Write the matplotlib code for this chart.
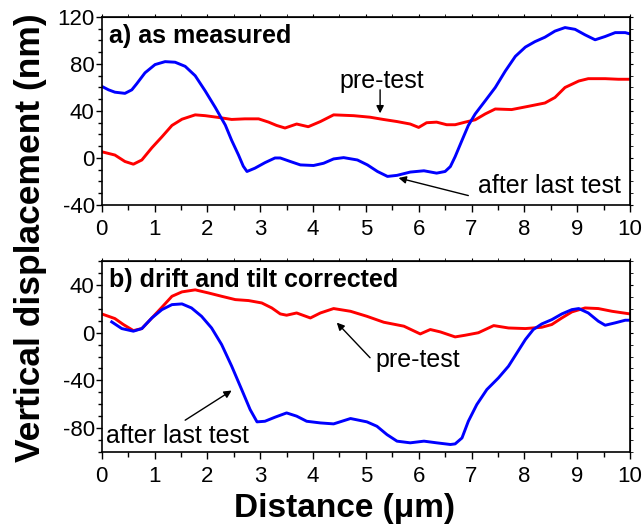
import matplotlib
matplotlib.use('Agg')
import matplotlib.pyplot as plt
from matplotlib.ticker import MultipleLocator

plt.rcParams['font.family'] = ['Liberation Sans', 'DejaVu Sans']
plt.rcParams['axes.unicode_minus'] = False

# (a) as measured - after last test (blue)
a_blue_x = [0, 0.13, 0.25, 0.44, 0.57, 0.66, 0.82, 1.01, 1.2, 1.39, 1.58, 1.77, 1.96,
            2.15, 2.34, 2.46, 2.59, 2.68, 2.75, 2.9, 3.09, 3.28, 3.38, 3.57, 3.76,
            4.01, 4.2, 4.39, 4.58, 4.84, 5.03, 5.22, 5.41, 5.59, 5.84, 6.1, 6.34,
            6.5, 6.6, 6.69, 6.82, 6.94, 7.07, 7.26, 7.45, 7.64, 7.83, 8.02, 8.2,
            8.39, 8.58, 8.77, 8.96, 9.15, 9.34, 9.53, 9.72, 9.91, 10]
a_blue_y = [61, 58, 56, 55, 58, 63, 72.5, 79.5, 82, 81.5, 78, 70, 57,
            43, 28, 15, 2.5, -7, -11.5, -8.7, -4, 0, 0, -3, -5.9,
            -6.4, -4.5, -0.8, 0.3, -1.7, -5.9, -11.5, -15.7, -14.8, -12, -10.9, -12.9,
            -11.5, -7.3, 1.1, 15, 27.7, 37.5, 48.7, 60, 74, 86.5, 94.4, 99,
            102.8, 108, 111, 109.5, 104.8, 100.6, 103.4, 106.7, 106.7, 105.6]

# (a) as measured - pre-test (red)
a_red_x = [0, 0.25, 0.44, 0.6, 0.76, 0.95, 1.14, 1.33, 1.52, 1.77, 1.96, 2.21, 2.46,
           2.71, 2.97, 3.16, 3.31, 3.47, 3.69, 3.91, 4.14, 4.39, 4.77, 5.08, 5.33,
           5.59, 5.84, 6.0, 6.15, 6.34, 6.53, 6.69, 6.88, 7.07, 7.26, 7.45, 7.76,
           8.08, 8.39, 8.58, 8.77, 9.03, 9.21, 9.53, 9.78, 10]
a_red_y = [5.3, 2.5, -3, -5.3, -1.7, 8.7, 18, 27.7, 33, 36.7, 36, 34.5, 32.8,
           33.3, 33.3, 30.5, 27.7, 25.5, 28.9, 26.6, 31, 36.7, 36, 34.7, 32.8,
           31, 28.9, 26, 30, 30.5, 28.3, 28.3, 30.5, 32.5, 37.5, 41.7, 41.2,
           44, 46.8, 51.5, 60, 65.5, 67.5, 67.5, 67, 67]

# (b) drift and tilt corrected - after last test (blue)
b_blue_x = [0.19, 0.38, 0.6, 0.76, 0.95, 1.14, 1.33, 1.52, 1.7, 1.89, 2.08, 2.27, 2.46,
            2.65, 2.81, 2.94, 3.09, 3.28, 3.5, 3.69, 3.88, 4.14, 4.39, 4.71, 5.02,
            5.21, 5.4, 5.59, 5.84, 6.1, 6.34, 6.6, 6.69, 6.82, 6.94, 7.1, 7.29,
            7.51, 7.7, 7.86, 8.02, 8.17, 8.33, 8.52, 8.71, 8.9, 9.03, 9.21, 9.4,
            9.53, 9.72, 9.91, 10]
b_blue_y = [9.1, 3.5, 1.3, 3.5, 12.4, 19.4, 23.6, 24.2, 20.8, 13.8, 4, -9.9, -28,
            -47.7, -64.5, -74.8, -74.3, -70.9, -67.3, -70, -74.3, -75.7, -76.5, -72, -74.8,
            -78.5, -85.5, -91, -92.4, -91, -92.4, -93.8, -93.3, -88.3, -74.3, -60.3, -47.7,
            -37.9, -28.1, -16.9, -5.7, 2.7, 7.4, 11, 15.8, 19.4, 20.3, 16.6, 9.7,
            6.3, 8.3, 10.5, 10.5]

# (b) drift and tilt corrected - pre-test (red)
b_red_x = [0, 0.25, 0.41, 0.6, 0.76, 0.95, 1.14, 1.33, 1.52, 1.77, 2.02, 2.27, 2.53,
           2.78, 3.03, 3.22, 3.38, 3.5, 3.69, 3.95, 4.14, 4.39, 4.71, 5.02, 5.34,
           5.72, 6.03, 6.22, 6.41, 6.69, 6.88, 7.13, 7.42, 7.7, 8.02, 8.33, 8.52,
           8.71, 8.9, 9.15, 9.4, 9.66, 10]
b_red_y = [15.8, 11.9, 6.9, 1.8, 3.5, 12.4, 21.4, 30.6, 34.3, 36, 33.4, 30.6, 27.8,
           27, 25, 20.8, 15.8, 14.7, 16.6, 12.4, 16.6, 20.3, 18, 13.8, 8.8,
           5.5, -1, 2.7, 0.7, -3.5, -2.1, 0, 6, 4, 3.5, 4.6, 6.9,
           12.4, 17.5, 20.8, 20.3, 18, 15.8]

fig = plt.figure(figsize=(6.42, 5.31), dpi=100)
ax1 = fig.add_axes([0.1584, 0.614, 0.8229, 0.354])
ax2 = fig.add_axes([0.1584, 0.149, 0.8229, 0.359])

lw = 2.1
ax1.plot(a_red_x, a_red_y, color='#ff0000', lw=lw, solid_joinstyle='round')
ax1.plot(a_blue_x, a_blue_y, color='#0000ff', lw=lw, solid_joinstyle='round')
ax2.plot(b_red_x, b_red_y, color='#ff0000', lw=lw, solid_joinstyle='round')
ax2.plot(b_blue_x, b_blue_y, color='#0000ff', lw=lw, solid_joinstyle='round')

ax1.set_ylim(-40, 120)
ax2.set_ylim(-100, 60)
for ax in (ax1, ax2):
    ax.set_xlim(0, 10)
    ax.xaxis.set_major_locator(MultipleLocator(1))
    ax.xaxis.set_minor_locator(MultipleLocator(0.5))
    ax.yaxis.set_major_locator(MultipleLocator(40))
    ax.yaxis.set_minor_locator(MultipleLocator(10))
    ax.tick_params(which='both', direction='out', labelsize=16, width=1,
                   top=False, right=False)
    ax.tick_params(axis='x', which='major', length=5, pad=5)
    ax.tick_params(axis='x', which='minor', length=3.5)
    ax.tick_params(axis='y', which='major', length=4, pad=1)
    ax.tick_params(axis='y', which='minor', length=3)
    # short ticks on top and right
    sec = ax.secondary_xaxis('top')
    sec.xaxis.set_major_locator(MultipleLocator(1))
    sec.xaxis.set_minor_locator(MultipleLocator(0.5))
    sec.tick_params(which='both', direction='out', labeltop=False, length=2.5)
    secy = ax.secondary_yaxis('right')
    secy.yaxis.set_major_locator(MultipleLocator(40))
    secy.yaxis.set_minor_locator(MultipleLocator(10))
    secy.tick_params(which='both', direction='out', labelright=False, length=2.5)
    for s in ax.spines.values():
        s.set_linewidth(1.2)

# panel titles
ax1.text(0.14, 104, 'a) as measured', fontsize=18, fontweight='bold', va='center')
ax2.text(0.14, 44, 'b) drift and tilt corrected', fontsize=18, fontweight='bold', va='center')

arrow = dict(arrowstyle='-|>', color='black', lw=1, mutation_scale=11, shrinkA=0, shrinkB=0)

# annotations panel a
ax1.text(5.3, 65.5, 'pre-test', fontsize=18, ha='center', va='center')
ax1.annotate('', xy=(5.27, 38), xytext=(5.27, 58), arrowprops=arrow)
ax1.text(8.47, -24, 'after last test', fontsize=18, ha='center', va='center')
ax1.annotate('', xy=(5.62, -17), xytext=(6.94, -32), arrowprops=arrow)

# annotations panel b
ax2.text(5.18, -22.5, 'pre-test', fontsize=18, ha='left', va='center')
ax2.annotate('', xy=(4.45, 8.5), xytext=(5.08, -21), arrowprops=arrow)
ax2.text(0.09, -87, 'after last test', fontsize=18, ha='left', va='center')
ax2.annotate('', xy=(2.46, -48.5), xytext=(1.58, -73.4), arrowprops=arrow)

fig.text(0.537, 0.0264, 'Distance (\u03bcm)', fontsize=24, fontweight='bold',
         ha='center', va='baseline')
fig.text(0.048, 0.553, 'Vertical displacement (nm)', fontsize=25.5, fontweight='bold',
         rotation=90, ha='center', va='center')

fig.savefig('out.png', dpi=100)
